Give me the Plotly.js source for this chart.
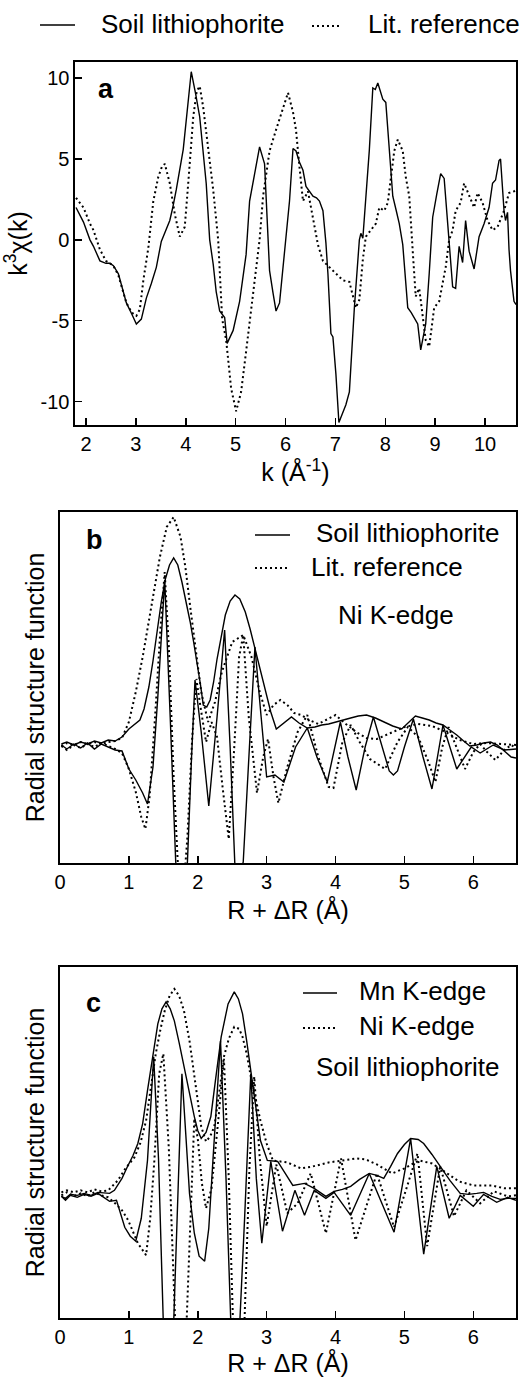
<!DOCTYPE html>
<html><head><meta charset="utf-8">
<script src="https://cdn.plot.ly/plotly-3.0.1.min.js"></script>
<style>html,body{margin:0;padding:0;background:#fff}#chart{width:521px;height:1379px}</style>
</head><body><div id="chart"></div>
<script>
// ---------- Panel a : k^3 chi(k) ----------
const aSoilK = [1.80,1.95,2.08,2.15,2.28,2.40,2.48,2.55,2.65,2.81,2.92,3.01,3.11,3.21,3.31,3.41,3.51,3.60,3.68,3.74,3.81,3.95,4.03,4.11,4.20,4.28,4.41,4.48,4.55,4.61,4.68,4.78,4.83,4.89,4.95,5.08,5.21,5.28,5.38,5.48,5.58,5.63,5.68,5.75,5.81,5.88,5.95,6.01,6.08,6.15,6.21,6.28,6.35,6.41,6.48,6.55,6.62,6.68,6.75,6.81,6.85,6.91,6.95,7.01,7.07,7.14,7.21,7.28,7.38,7.48,7.51,7.55,7.61,7.68,7.75,7.80,7.85,7.95,8.01,8.08,8.15,8.22,8.28,8.35,8.45,8.52,8.58,8.65,8.71,8.81,8.88,8.95,9.03,9.11,9.18,9.28,9.35,9.41,9.45,9.48,9.55,9.61,9.68,9.78,9.88,9.98,10.08,10.15,10.21,10.28,10.31,10.38,10.41,10.45,10.48,10.51,10.58,10.62];
const aSoil  = [2.0,1.1,0.0,-0.4,-1.3,-1.45,-1.45,-1.6,-2.1,-3.9,-4.6,-5.2,-4.9,-3.6,-2.7,-1.7,-0.1,0.6,1.2,2.0,3.1,5.6,8.0,10.4,9.0,7.6,3.5,0.0,-1.5,-3.2,-4.4,-4.8,-6.4,-6.0,-5.6,-3.8,-0.9,2.4,4.2,5.75,4.7,1.5,-1.9,-3.3,-4.4,-3.9,-1.8,0.0,2.4,5.65,5.5,4.8,4.3,3.3,3.0,2.7,2.6,2.4,1.8,-0.2,-2.1,-5.8,-6.0,-8.3,-11.3,-10.8,-10.2,-9.4,-4.2,0.0,0.4,0.1,2.5,5.55,9.4,9.3,9.7,8.7,8.5,5.5,2.7,1.8,1.0,-0.3,-4.2,-4.5,-4.8,-5.2,-6.8,-5.2,-2.1,1.4,2.8,4.1,3.8,-0.3,-2.9,-3.0,-1.2,-0.4,-1.4,1.2,-0.7,-1.8,0.2,1.0,2.0,3.5,3.7,4.9,5.0,1.8,1.2,1.7,-0.6,-1.9,-3.8,-4.0];
const aLitK = [1.80,1.95,2.08,2.15,2.28,2.40,2.55,2.65,2.81,2.92,3.01,3.08,3.15,3.25,3.35,3.45,3.52,3.58,3.68,3.78,3.88,3.98,4.05,4.15,4.22,4.28,4.35,4.41,4.55,4.65,4.73,4.81,4.91,5.01,5.11,5.21,5.31,5.41,5.48,5.55,5.68,5.81,5.95,6.05,6.15,6.21,6.28,6.35,6.45,6.55,6.65,6.75,6.88,7.01,7.15,7.28,7.35,7.41,7.48,7.55,7.61,7.71,7.81,7.88,7.98,8.05,8.11,8.18,8.25,8.35,8.41,8.48,8.55,8.61,8.68,8.75,8.81,8.88,8.98,9.08,9.21,9.28,9.35,9.41,9.51,9.58,9.68,9.78,9.85,9.95,10.05,10.15,10.25,10.38,10.48,10.58,10.62];
const aLit  = [2.6,2.0,1.0,0.6,-0.6,-1.3,-1.6,-2.2,-3.9,-4.5,-4.7,-4.3,-2.5,-0.5,2.4,3.9,4.5,4.7,3.5,1.6,0.2,0.8,3.5,7.6,9.2,9.5,8.2,6.6,3.1,0.0,-4.9,-6.2,-9.2,-10.6,-9.4,-6.9,-4.2,-1.7,0.0,2.7,5.5,6.8,8.2,9.1,7.9,6.8,4.5,2.4,3.0,1.4,-0.3,-1.3,-1.7,-2.1,-2.5,-2.6,-3.5,-4.2,-3.7,-1.2,0.2,0.6,1.0,2.0,1.8,2.3,3.9,5.5,6.2,5.5,3.9,2.7,-0.7,-3.5,-3.0,-4.6,-6.2,-6.6,-4.2,-3.8,-1.7,0.0,0.6,1.8,2.3,3.5,2.7,2.0,2.9,2.3,1.2,0.6,0.8,1.8,2.9,3.0,3.1];
const aXTicks = [2,3,4,5,6,7,8,9,10];
const aYTicks = [-10,-5,0,5,10];
const aYTickText = ['-10','-5','0','5','10'];

// ---------- Panel b : Ni K-edge RSF ----------
const bSoilMagR = [0.02,0.1,0.2,0.3,0.4,0.5,0.6,0.7,0.8,0.9,1.0,1.08,1.16,1.22,1.29,1.35,1.41,1.47,1.53,1.59,1.65,1.71,1.77,1.83,1.89,1.94,1.99,2.04,2.08,2.13,2.18,2.23,2.28,2.34,2.40,2.47,2.54,2.61,2.69,2.76,2.83,2.9,2.98,3.06,3.14,3.25,3.36,3.47,3.59,3.7,3.8,3.9,4.02,4.12,4.22,4.33,4.45,4.58,4.7,4.83,4.96,5.06,5.16,5.26,5.36,5.46,5.56,5.66,5.76,5.86,5.95,6.05,6.15,6.25,6.35,6.45,6.55,6.62];
const bSoilMag  = [0.3,0.5,0.2,0.5,0.3,0.6,0.4,0.7,0.6,1.0,1.8,2.3,2.7,3.8,6.0,8.6,11.5,14.5,16.8,18.2,18.9,18.2,16.5,14.6,12.5,10.5,8.5,6.2,4.2,4.0,4.7,6.5,8.8,11.2,13.2,14.6,15.2,14.8,13.5,11.8,9.8,7.8,5.5,3.5,1.8,2.4,3.0,2.4,1.9,2.0,2.2,2.3,2.5,2.7,2.9,3.1,3.2,2.9,2.5,2.1,1.8,2.5,3.1,2.9,2.7,2.4,2.2,1.7,1.2,0.6,0.1,0.2,0.4,0.5,0.2,-0.4,-1.0,-1.1];
const bSoilImR = [0.02,0.1,0.2,0.3,0.4,0.5,0.6,0.7,0.8,0.9,1.0,1.1,1.2,1.27,1.35,1.42,1.52,1.6,1.68,1.77,1.85,1.91,1.96,2.05,2.16,2.28,2.39,2.47,2.54,2.6,2.66,2.75,2.83,2.92,3.0,3.12,3.25,3.42,3.59,3.73,3.88,4.07,4.18,4.3,4.43,4.55,4.7,4.78,4.84,4.9,5.0,5.13,5.27,5.4,5.56,5.76,5.97,6.1,6.29,6.45,6.62];
const bSoilIm  = [0.2,-0.2,0.3,-0.1,0.4,-0.2,0.3,0.0,-0.3,-0.4,-2.2,-3.3,-4.6,-5.7,-2.0,5.0,16.7,3.0,-11.5,-16.0,-11.5,-1.0,6.7,1.5,-5.9,3.0,11.7,0.0,-12.0,-13.0,-11.5,0.0,10.0,3.0,-3.0,-2.8,-3.5,0.0,1.9,-1.0,-3.5,2.5,-1.0,-4.3,0.0,3.0,-0.5,-2.4,-2.8,-2.4,0.0,2.8,-1.0,-4.2,2.2,-2.2,0.0,-0.6,0.2,-0.3,-0.2];
const bLitMagR = [0.02,0.1,0.2,0.3,0.4,0.5,0.6,0.7,0.8,0.9,1.0,1.1,1.2,1.33,1.45,1.55,1.65,1.75,1.82,1.9,1.96,2.05,2.15,2.25,2.35,2.5,2.66,2.78,2.9,3.0,3.1,3.2,3.3,3.4,3.5,3.62,3.75,3.88,4.0,4.15,4.3,4.45,4.6,4.8,5.0,5.2,5.4,5.6,5.8,6.0,6.2,6.4,6.62];
const bLitMag  = [0.1,0.4,0.2,0.5,0.3,0.5,0.3,0.5,0.6,0.9,2.5,5.5,9.0,14.2,19.0,22.0,23.0,21.0,18.0,13.5,10.2,5.5,2.5,4.5,7.5,10.5,11.2,9.0,5.5,3.2,4.2,4.7,4.2,3.4,3.2,2.7,2.3,2.8,3.2,2.3,1.5,0.9,0.8,1.4,2.0,2.3,2.1,1.5,0.7,0.3,0.4,0.3,0.2];
const bLitImR = [0.02,0.1,0.2,0.3,0.4,0.5,0.6,0.7,0.8,0.9,1.0,1.1,1.18,1.24,1.3,1.38,1.46,1.52,1.58,1.65,1.72,1.78,1.85,1.92,1.98,2.04,2.12,2.2,2.28,2.36,2.45,2.53,2.6,2.66,2.74,2.86,2.95,3.02,3.1,3.17,3.3,3.45,3.59,3.75,3.9,3.97,4.1,4.22,4.35,4.5,4.72,4.9,5.05,5.2,5.35,5.45,5.55,5.64,5.75,5.88,6.0,6.1,6.2,6.32,6.45,6.55,6.62];
const bLitIm  = [0.1,-0.3,0.2,-0.1,0.3,0.0,0.4,0.1,-0.2,-0.6,-2.2,-4.5,-7.0,-8.2,-5.0,3.0,12.0,17.5,10.0,-3.0,-13.0,-15.5,-9.0,1.0,6.8,4.0,0.5,2.5,1.0,-4.0,-9.2,0.0,9.0,11.2,3.0,-4.6,-1.0,0.8,-3.0,-5.6,-2.0,1.5,3.2,-1.0,-4.0,-4.1,0.5,2.2,0.5,-1.2,-2.2,0.5,2.0,1.0,-1.5,-3.5,0.0,2.0,0.0,-2.2,-0.5,0.3,-0.5,-1.3,-0.3,0.2,-0.1];

// ---------- Panel c : Soil lithiophorite, Mn vs Ni K-edge ----------
const cMnMagR = [0.02,0.08,0.15,0.25,0.35,0.45,0.55,0.65,0.72,0.79,0.9,0.98,1.06,1.13,1.2,1.27,1.35,1.42,1.48,1.54,1.6,1.66,1.73,1.8,1.88,1.95,2.0,2.05,2.12,2.19,2.26,2.34,2.44,2.53,2.59,2.65,2.71,2.77,2.84,2.91,3.01,3.16,3.27,3.38,3.55,3.69,3.86,3.98,4.1,4.22,4.35,4.49,4.6,4.7,4.8,4.9,5.0,5.09,5.2,5.28,5.4,5.52,5.66,5.81,5.93,6.05,6.15,6.27,6.39,6.5,6.62];
const cMnMag  = [0.2,0.0,0.4,0.3,0.5,0.3,0.6,0.5,0.5,0.8,2.0,3.2,4.3,5.5,7.5,10.8,14.5,17.5,19.0,19.7,19.0,17.8,15.6,13.2,10.6,8.2,6.8,6.0,6.6,8.2,12.0,16.2,19.5,20.7,20.0,18.5,15.8,12.8,9.2,5.8,3.8,3.7,2.5,1.3,1.5,1.0,0.2,0.7,0.9,1.2,1.9,2.5,2.3,2.0,3.2,4.5,5.4,6.0,5.9,5.5,4.4,3.2,1.8,0.5,0.4,0.5,0.6,0.2,-0.1,0.0,0.0];
const cMnImR = [0.02,0.08,0.15,0.25,0.35,0.45,0.55,0.65,0.72,0.82,0.94,1.02,1.1,1.18,1.27,1.36,1.43,1.5,1.57,1.65,1.72,1.77,1.83,1.88,1.95,2.02,2.1,2.16,2.22,2.33,2.41,2.48,2.54,2.61,2.68,2.77,2.85,2.93,3.06,3.23,3.41,3.55,3.69,3.86,3.98,4.22,4.49,4.85,5.09,5.28,5.47,5.65,5.81,6.0,6.15,6.34,6.5,6.62];
const cMnIm  = [0.2,-0.2,0.3,0.1,0.4,0.2,0.5,0.0,-0.3,-0.2,-2.9,-3.8,-4.3,-2.0,3.8,14.2,4.0,-12.5,-17.0,-12.5,2.0,12.5,6.0,0.5,-3.5,-5.8,-6.3,-3.0,3.8,15.8,2.0,-12.5,-16.0,-12.5,-2.0,12.5,2.0,-4.5,3.7,-3.3,0.8,-1.7,0.8,0.0,0.6,-1.7,2.5,-3.4,6.0,-5.6,3.2,-2.0,0.3,-0.8,0.4,-0.4,0.1,-0.2];
const cNiMagR = [0.02,0.1,0.2,0.3,0.4,0.5,0.6,0.7,0.84,0.95,1.08,1.17,1.25,1.32,1.39,1.46,1.52,1.59,1.66,1.73,1.8,1.88,1.95,2.0,2.05,2.12,2.18,2.24,2.31,2.38,2.45,2.53,2.6,2.65,2.71,2.77,2.84,2.91,3.0,3.09,3.3,3.5,3.67,3.9,4.1,4.3,4.44,4.6,4.82,5.0,5.21,5.4,5.6,5.79,6.0,6.27,6.45,6.62];
const cNiMag  = [0.6,0.8,0.6,0.8,0.6,0.9,0.7,0.8,1.8,3.0,4.1,5.6,7.8,11.0,14.5,17.0,18.8,20.3,21.0,20.3,18.8,15.8,12.5,9.8,7.2,5.7,6.2,7.2,10.5,14.2,16.0,17.2,17.0,16.2,14.5,12.2,10.0,7.8,5.5,3.8,3.6,3.0,3.2,3.6,3.8,4.0,3.9,3.4,2.5,3.0,3.8,3.5,2.6,1.7,1.3,1.3,1.0,1.0];
const cNiImR = [0.02,0.1,0.2,0.3,0.4,0.5,0.6,0.7,0.8,0.9,0.99,1.13,1.25,1.31,1.37,1.44,1.5,1.58,1.67,1.75,1.84,1.9,1.95,2.0,2.06,2.12,2.2,2.3,2.38,2.45,2.51,2.6,2.68,2.75,2.82,2.9,3.0,3.14,3.3,3.45,3.64,3.86,4.08,4.29,4.6,4.85,5.19,5.33,5.52,5.72,5.9,6.1,6.3,6.5,6.62];
const cNiIm  = [0.3,0.6,0.2,0.5,0.2,0.6,0.3,0.1,-0.5,-1.2,-2.2,-4.5,-5.7,-2.0,3.8,12.5,14.5,5.0,-12.0,-16.0,-12.0,0.0,8.0,6.0,1.5,-1.0,1.0,8.0,14.0,2.0,-12.0,-15.0,-12.0,3.0,12.2,4.0,-2.8,3.4,-1.5,-0.5,2.5,-3.5,4.0,-4.2,2.5,-2.9,4.5,-4.8,3.2,-1.8,0.8,-0.5,0.7,0.2,0.3];
const rTicks = [0,1,2,3,4,5,6];

// ---------- drawing ----------
const W = 521, H = 1379;
const FONT = 'Liberation Sans, Arial, Helvetica, sans-serif';
const SOLID = {color:'#000', width:1.4};
const DOT = {color:'#000', width:2, dash:'2px,3px'};
function tr(x, y, xa, ya, line){ return {x, y, xaxis:xa, yaxis:ya, type:'scatter', mode:'lines', line, showlegend:false, hoverinfo:'skip'}; }

const data = [
  tr(aLitK, aLit, 'x', 'y', DOT),
  tr(aSoilK, aSoil, 'x', 'y', SOLID),
  tr(bLitMagR, bLitMag, 'x2', 'y2', DOT),
  tr(bLitImR, bLitIm, 'x2', 'y2', DOT),
  tr(bSoilMagR, bSoilMag, 'x2', 'y2', SOLID),
  tr(bSoilImR, bSoilIm, 'x2', 'y2', SOLID),
  tr(cNiMagR, cNiMag, 'x3', 'y3', DOT),
  tr(cNiImR, cNiIm, 'x3', 'y3', DOT),
  tr(cMnMagR, cMnMag, 'x3', 'y3', SOLID),
  tr(cMnImR, cMnIm, 'x3', 'y3', SOLID)
];

const fx = v => v / W, fy = v => 1 - v / H;
function frame(extra){
  return Object.assign({showline:true, linecolor:'#000', linewidth:1.6, mirror:true, showgrid:false, zeroline:false,
    ticks:'inside', ticklen:7, tickwidth:1.5, tickcolor:'#000', tickfont:{size:20, color:'#000', family:FONT},
    automargin:false, fixedrange:true}, extra);
}
const layout = {
  width:W, height:H, margin:{l:0, r:0, t:0, b:0}, paper_bgcolor:'#fff', plot_bgcolor:'#fff',
  font:{family:FONT, color:'#000'}, showlegend:false,
  xaxis: frame({domain:[fx(75), fx(516)], range:[1.78, 10.62], anchor:'y', tickmode:'array', tickvals:aXTicks, ticktext:aXTicks.map(String),
    title:{text:'k (Å<sup>-1</sup>)', font:{size:25}, standoff:5}}),
  yaxis: frame({domain:[fy(425), fy(62)], range:[-11.45, 11.0], anchor:'x', tickmode:'array', tickvals:aYTicks, ticktext:aYTickText,
    title:{text:'k<sup>3</sup>χ(k)', font:{size:25}, standoff:8}}),
  xaxis2: frame({domain:[fx(60), fx(516)], range:[0, 6.62], anchor:'y2', tickmode:'array', tickvals:rTicks, ticktext:rTicks.map(String),
    title:{text:'R + ΔR (Å)', font:{size:25}, standoff:10}}),
  yaxis2: frame({domain:[fy(863), fy(512)], range:[-11.6, 23.5], anchor:'x2', ticks:'', showticklabels:false,
    title:{text:'Radial structure function', font:{size:25}, standoff:6}}),
  xaxis3: frame({domain:[fx(60), fx(516)], range:[0, 6.62], anchor:'y3', tickmode:'array', tickvals:rTicks, ticktext:rTicks.map(String),
    title:{text:'R + ΔR (Å)', font:{size:25}, standoff:8}}),
  yaxis3: frame({domain:[fy(1318), fy(967)], range:[-12.0, 23.2], anchor:'x3', ticks:'', showticklabels:false,
    title:{text:'Radial structure function', font:{size:25}, standoff:6}}),
  shapes: [
    {type:'line', xref:'paper', yref:'paper', x0:fx(40), x1:fx(75), y0:fy(25), y1:fy(25), line:{color:'#000', width:1.4}},
    {type:'line', xref:'paper', yref:'paper', x0:fx(312), x1:fx(341), y0:fy(26), y1:fy(26), line:{color:'#000', width:2, dash:'2px,3px'}},
    {type:'line', xref:'paper', yref:'paper', x0:fx(255), x1:fx(290), y0:fy(535), y1:fy(535), line:{color:'#000', width:1.4}},
    {type:'line', xref:'paper', yref:'paper', x0:fx(255), x1:fx(288), y0:fy(568), y1:fy(568), line:{color:'#000', width:2, dash:'2px,3px'}},
    {type:'line', xref:'paper', yref:'paper', x0:fx(303), x1:fx(337), y0:fy(993), y1:fy(993), line:{color:'#000', width:1.4}},
    {type:'line', xref:'paper', yref:'paper', x0:fx(303), x1:fx(335), y0:fy(1028), y1:fy(1028), line:{color:'#000', width:2, dash:'2px,3px'}}
  ],
  annotations: [
    {text:'Soil lithiophorite', x:fx(99), y:fy(24), xanchor:'left', yanchor:'middle'},
    {text:'Lit. reference', x:fx(366), y:fy(24), xanchor:'left', yanchor:'middle'},
    {text:'<b>a</b>', x:fx(96), y:fy(89), xanchor:'left', yanchor:'middle', size:27},
    {text:'Soil lithiophorite', x:fx(314), y:fy(533), xanchor:'left', yanchor:'middle'},
    {text:'Lit. reference', x:fx(309), y:fy(567), xanchor:'left', yanchor:'middle'},
    {text:'Ni K-edge', x:fx(336), y:fy(615), xanchor:'left', yanchor:'middle'},
    {text:'<b>b</b>', x:fx(84), y:fy(540), xanchor:'left', yanchor:'middle', size:27},
    {text:'Mn K-edge', x:fx(357), y:fy(991), xanchor:'left', yanchor:'middle'},
    {text:'Ni K-edge', x:fx(357), y:fy(1026), xanchor:'left', yanchor:'middle'},
    {text:'Soil lithiophorite', x:fx(314), y:fy(1067), xanchor:'left', yanchor:'middle'},
    {text:'<b>c</b>', x:fx(84), y:fy(1003), xanchor:'left', yanchor:'middle', size:27}
  ].map(a => ({text:a.text, x:a.x, y:a.y, xref:'paper', yref:'paper', xanchor:a.xanchor, yanchor:a.yanchor, showarrow:false,
               font:{size:a.size || 26, color:'#000', family:FONT}}))
};
Plotly.newPlot('chart', data, layout, {staticPlot:true, displayModeBar:false});
</script>
</body></html>
